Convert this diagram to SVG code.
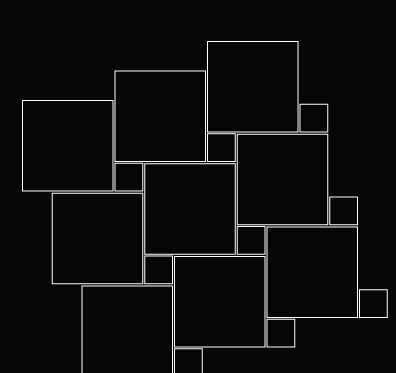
<svg xmlns="http://www.w3.org/2000/svg" width="396" height="373" viewBox="0 0 396 373">
<style>
.b{fill:#060606;stroke:#fff;stroke-width:1}
</style>
<rect width="396" height="373" fill="#060606"/>
<g id="sqA"><rect class="b" x="22.5" y="100.5" width="90.5" height="90.5"/></g>
<g id="sqB"><rect class="b" x="115" y="71" width="90.5" height="90.5"/></g>
<g id="sqC"><rect class="b" x="207.5" y="41.5" width="90.5" height="90.5"/></g>
<g id="sqD"><rect class="b" x="52.25" y="193.25" width="90.5" height="90.5"/></g>
<g id="sqE"><rect class="b" x="144.75" y="163.75" width="90.5" height="90.5"/></g>
<g id="sqF"><rect class="b" x="237.25" y="134.25" width="90.5" height="90.5"/></g>
<g id="sqG"><rect class="b" x="82" y="286" width="90.5" height="90.5"/></g>
<g id="sqI"><rect class="b" x="174.5" y="256.5" width="90.5" height="90.5"/></g>
<g id="sqH"><rect class="b" x="267" y="227" width="90.5" height="90.5"/></g>
<g id="smA"><rect class="b" x="115" y="163.25" width="27.75" height="27.75"/></g>
<g id="smB"><rect class="b" x="207.5" y="133.75" width="27.75" height="27.75"/></g>
<g id="smC"><rect class="b" x="300" y="104.25" width="27.75" height="27.75"/></g>
<g id="smD"><rect class="b" x="144.75" y="256" width="27.75" height="27.75"/></g>
<g id="smE"><rect class="b" x="237.25" y="226.5" width="27.75" height="27.75"/></g>
<g id="smF"><rect class="b" x="329.75" y="197" width="27.75" height="27.75"/></g>
<g id="smG"><rect class="b" x="174.5" y="348.75" width="27.75" height="27.75"/></g>
<g id="smI"><rect class="b" x="267" y="319.25" width="27.75" height="27.75"/></g>
<g id="smH"><rect class="b" x="359.5" y="289.75" width="27.75" height="27.75"/></g>
<g id="connectors"></g>
</svg>
